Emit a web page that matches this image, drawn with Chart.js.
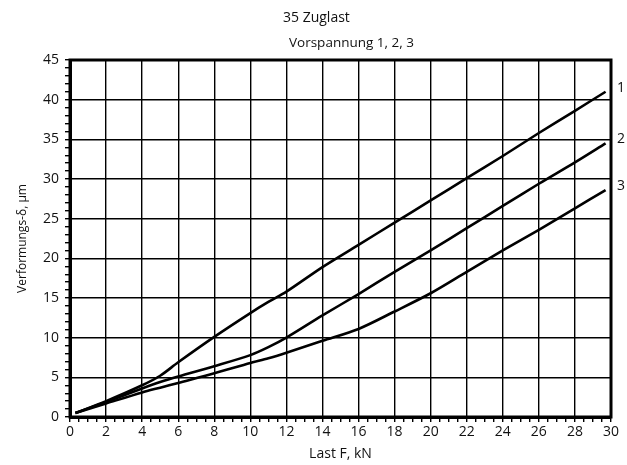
<!DOCTYPE html>
<html lang="de">
<head>
  <meta charset="UTF-8" />
  <title>35 Zuglast</title>
  <script src="https://cdn.jsdelivr.net/npm/chart.js"></script>
  <style>
    * { box-sizing: border-box; }
    body { margin: 0; padding: 0; background: #fff; }
    #wrap { width: 627px; height: 465px; position: relative; }
  </style>
</head>
<body>
  <div id="wrap"><canvas id="chart"></canvas></div>

  <script>
    // load F in kN (shared x values)
    const loadKN = [0.3, 2, 4, 5, 6, 8, 10, 11, 12, 14, 16, 18, 20, 22, 24, 26, 28, 29.7];
    // deformation in µm for preload 1, 2, 3
    const preload1 = [0.5, 2.0, 4.0, 5.2, 6.9, 10.1, 13.1, 14.5, 15.8, 18.9, 21.7, 24.5, 27.3, 30.1, 32.9, 35.8, 38.6, 41.0];
    const preload2 = [0.5, 1.9, 3.6, 4.4, 5.1, 6.4, 7.8, 8.8, 10.0, 12.8, 15.5, 18.3, 21.0, 23.8, 26.6, 29.4, 32.1, 34.5];
    const preload3 = [0.5, 1.7, 3.1, 3.7, 4.3, 5.5, 6.8, 7.4, 8.1, 9.6, 11.1, 13.3, 15.6, 18.3, 21.0, 23.6, 26.3, 28.6];
    const seriesLabels = ['1', '2', '3'];
    const titleLines = ['35 Zuglast', 'Vorspannung 1, 2, 3'];

    const FONT = '"Open Sans", "Liberation Sans", sans-serif';

    function toPoints(ys) {
      return ys.map((y, i) => ({ x: loadKN[i], y: y }));
    }

    const frame = {
      id: 'frame',
      afterDatasetsDraw(chart) {
        const { ctx, chartArea: a } = chart;
        ctx.save();
        ctx.strokeStyle = '#000';
        ctx.lineWidth = 3;
        ctx.strokeRect(a.left, a.top, a.right - a.left, a.bottom - a.top);

        // curve numbers at the right end
        ctx.fillStyle = '#111';
        ctx.font = '14px ' + FONT;
        ctx.textBaseline = 'middle';
        ctx.textAlign = 'left';
        chart.data.datasets.forEach((ds, i) => {
          const last = ds.data[ds.data.length - 1];
          const y = chart.scales.y.getPixelForValue(last.y);
          ctx.fillText(seriesLabels[i], a.right + 6, y - 4);
        });

        // title lines
        ctx.fillText(titleLines[0], 283, 18);
        ctx.font = '13.5px ' + FONT;
        ctx.fillText(titleLines[1], 289, 43);
        ctx.restore();
      }
    };

    new Chart(document.getElementById('chart'), {
      type: 'line',
      data: {
        datasets: [preload1, preload2, preload3].map((ys, i) => ({
          label: seriesLabels[i],
          data: toPoints(ys),
          borderColor: '#000',
          borderWidth: 2.6,
          pointRadius: 0,
          fill: false,
          tension: 0.3
        }))
      },
      options: {
        responsive: true,
        maintainAspectRatio: false,
        animation: false,
        layout: { padding: { top: 60, right: 16, left: 0, bottom: 0 } },
        plugins: {
          legend: { display: false },
          tooltip: { enabled: false }
        },
        scales: {
          x: {
            type: 'linear',
            min: 0,
            max: 30,
            afterFit: (s) => { s.height = 48; },
            grid: {
              color: (c) => (c.tick && c.tick.value % 2 === 0 ? '#000' : 'rgba(0,0,0,0)'),
              lineWidth: 1.4,
              tickColor: '#000',
              tickWidth: 1.4,
              tickLength: 5,
              drawTicks: true
            },
            border: { color: '#000', width: 3 },
            ticks: {
              stepSize: 0.5,
              autoSkip: false,
              maxRotation: 0,
              padding: 2,
              color: '#111',
              font: { family: FONT, size: 14 },
              callback: (v) => (v % 2 === 0 ? String(v) : '')
            },
            title: {
              display: true,
              text: 'Last F, kN',
              color: '#111',
              font: { family: FONT, size: 14 },
              padding: { top: 0, bottom: 3 }
            }
          },
          y: {
            type: 'linear',
            min: 0,
            max: 45,
            afterFit: (s) => { s.width = 70; },
            grid: {
              color: (c) => (c.tick && c.tick.value % 5 === 0 ? '#000' : 'rgba(0,0,0,0)'),
              lineWidth: 1.4,
              tickColor: '#000',
              tickWidth: 1.4,
              tickLength: 5,
              drawTicks: true
            },
            border: { color: '#000', width: 3 },
            ticks: {
              stepSize: 1,
              autoSkip: false,
              padding: 6,
              color: '#111',
              font: { family: FONT, size: 14 },
              callback: (v) => (v % 5 === 0 ? String(v) : '')
            },
            title: {
              display: true,
              text: 'Verformungs-δ, µm',
              color: '#111',
              font: { family: FONT, size: 12 },
              padding: { top: 15, bottom: 0 }
            }
          }
        }
      },
      plugins: [frame]
    });
  </script>
</body>
</html>
